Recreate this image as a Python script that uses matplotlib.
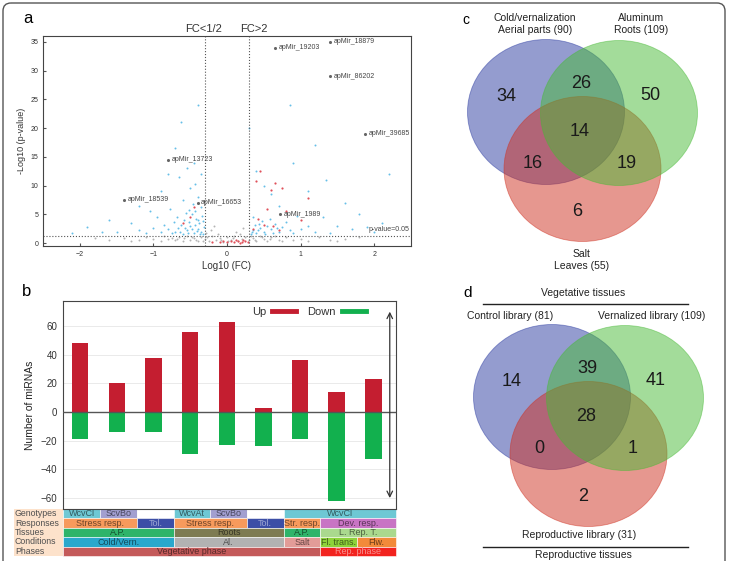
import matplotlib.pyplot as plt
from matplotlib.patches import Ellipse, Rectangle, FancyBboxPatch
from matplotlib.lines import Line2D
from matplotlib.transforms import blended_transform_factory
import matplotlib.colors as mcolors

plt.rcParams['font.family'] = ['Liberation Sans', 'DejaVu Sans']

# ---------------- datos ----------------
# panel a: volcano (puntos estimados a ojo)
blue_pts = [(-0.35, 2.0), (-0.4, 2.5), (-0.45, 1.8), (-0.5, 3.0), (-0.55, 2.2), (-0.6, 1.6),
            (-0.38, 3.5), (-0.42, 4.2), (-0.48, 5.0), (-0.52, 5.8), (-0.36, 6.2), (-0.46, 6.8),
            (-0.58, 4.0), (-0.62, 3.2), (-0.66, 2.6), (-0.7, 2.0), (-0.75, 1.7), (-0.8, 2.4),
            (-0.72, 3.6), (-0.68, 4.6), (-0.33, 1.6), (-0.31, 2.8), (-0.34, 4.8), (-0.4, 8.0),
            (-0.5, 9.5), (-0.44, 10.2), (-0.6, 7.5), (-0.85, 3.2), (-0.9, 1.9), (-1.0, 2.6),
            (-1.1, 1.8), (-1.2, 2.2), (-0.95, 4.5), (-1.05, 5.5), (-0.78, 6.0), (-0.65, 11.5),
            (-0.55, 13.0), (-0.7, 16.5), (-0.9, 9.0), (-1.3, 3.5), (-1.5, 2.0), (-1.7, 1.9),
            (-1.9, 2.8), (-1.2, 6.5), (-0.45, 14.0), (-0.35, 12.0), (-0.37, 1.5), (-0.41, 2.1),
            (-0.47, 2.4), (-0.53, 1.7), (-0.57, 2.7), (-0.43, 3.1), (-0.39, 4.0), (-0.51, 3.6),
            (-0.64, 1.9), (-0.56, 5.2), (-0.32, 3.9), (-0.44, 5.6), (-0.62, 21.0), (-0.4, 24.0),
            (-1.6, 4.0), (-2.1, 1.8), (-0.8, 12.0),
            (0.32, 1.6), (0.35, 2.2), (0.4, 1.8), (0.45, 2.6), (0.5, 2.0), (0.55, 3.0),
            (0.6, 2.4), (0.65, 3.4), (0.7, 1.9), (0.75, 2.8), (0.38, 3.2), (0.48, 3.8),
            (0.58, 4.2), (0.8, 3.6), (0.85, 2.2), (0.9, 1.7), (1.0, 2.5), (1.1, 3.0),
            (1.2, 2.0), (0.95, 4.8), (0.7, 6.5), (0.6, 8.5), (0.5, 10.0), (0.4, 12.5),
            (1.3, 4.5), (1.5, 3.0), (1.7, 2.4), (1.9, 2.8), (2.1, 3.5), (1.6, 7.0),
            (1.35, 11.0), (1.1, 9.0), (2.2, 12.0), (0.9, 14.0), (1.2, 17.0), (0.34, 1.9),
            (0.42, 2.3), (0.52, 1.6), (0.62, 1.8), (0.44, 3.4), (0.36, 4.5), (0.68, 2.6),
            (1.4, 1.8), (2.0, 2.0), (1.8, 5.0), (0.3, 20.0), (0.85, 24.0)]
gray_pts = [(-1.6, 0.6), (-1.4, 0.9), (-1.2, 0.5), (-1.1, 1.1), (-1.0, 0.7), (-0.9, 0.4),
            (-0.85, 1.2), (-0.8, 0.8), (-0.7, 0.5), (-0.65, 1.0), (-0.6, 0.3), (-0.55, 1.3),
            (-0.5, 0.6), (-0.45, 0.9), (-0.4, 0.4), (-0.35, 1.1), (-0.3, 0.7), (-0.25, 0.3),
            (-0.2, 1.2), (-0.15, 0.5), (-0.1, 0.9), (-0.05, 0.2), (0.0, 1.0), (0.05, 0.6),
            (0.1, 1.3), (0.15, 0.4), (0.2, 0.8), (0.25, 1.1), (0.3, 0.5), (0.35, 0.9),
            (0.4, 0.3), (0.45, 1.2), (0.5, 0.7), (0.55, 0.4), (0.6, 1.0), (0.7, 0.6),
            (0.8, 1.1), (0.9, 0.5), (1.0, 0.8), (1.1, 0.4), (1.25, 1.0), (1.4, 0.6),
            (1.6, 0.8), (-0.28, 1.8), (-0.22, 2.3), (-0.12, 1.6), (0.12, 1.9), (0.22, 2.6),
            (0.18, 1.5), (-0.18, 3.0), (-0.75, 0.9), (-0.68, 0.7), (-0.58, 0.9), (-0.48, 1.1),
            (-0.42, 0.6), (-0.32, 0.4), (-0.27, 1.0), (-0.08, 0.6), (0.02, 0.4), (0.08, 0.9),
            (0.32, 1.2), (0.38, 0.6), (0.48, 1.0), (0.58, 0.8), (0.65, 1.2), (0.75, 0.3),
            (-1.3, 0.3), (-1.8, 0.9), (1.8, 1.1), (1.5, 0.3)]
red_pts = [(0.0, 0.2), (0.05, 0.3), (0.1, 0.15), (0.15, 0.35), (0.2, 0.25), (0.25, 0.4),
           (0.28, 0.2), (-0.05, 0.3), (-0.1, 0.15), (0.12, 0.5), (0.22, 0.6), (0.35, 2.5),
           (0.42, 4.2), (0.5, 3.2), (0.55, 6.0), (0.6, 9.2), (0.65, 10.5), (0.75, 9.5),
           (0.45, 12.5), (0.62, 3.0), (0.8, 5.5), (0.7, 2.2), (1.0, 4.0), (-0.5, 4.5),
           (-0.45, 6.2), (-0.6, 3.5), (0.4, 10.8), (1.1, 7.8), (-0.2, 0.2), (0.18, 0.1)]
mir_names = ['apMir_18879', 'apMir_19203', 'apMir_86202', 'apMir_39685',
             'apMir_13723', 'apMir_18539', 'apMir_16653', 'apMir_1989']
mir_fc = [1.4, 0.65, 1.4, 1.87, -0.8, -1.4, -0.4, 0.72]
mir_p = [35, 34, 29, 19, 14.5, 7.5, 7, 5]

# panel b
n_conditions = 9
up_counts = [48, 20, 38, 56, 63, 3, 36, 14, 23]
down_counts = [-19, -14, -14, -29, -23, -24, -19, -62, -33]
table_rows = ['Genotypes', 'Responses', 'Tissues', 'Conditions', 'Phases']
genotype_cells = [(0, 1, 'WcvCl'), (1, 2, 'ScvBo'), (2, 3, ''), (3, 4, 'WcvAt'),
                  (4, 5, 'ScvBo'), (5, 6, ''), (6, 9, 'WcvCl')]
response_cells = [(0, 2, 'Stress resp.'), (2, 3, 'Tol.'), (3, 5, 'Stress resp.'),
                  (5, 6, 'Tol.'), (6, 7, 'Str. resp.'), (7, 9, 'Dev. resp.')]
tissue_cells = [(0, 3, 'A.P.'), (3, 6, 'Roots'), (6, 7, 'A.P.'), (7, 9, 'L. Rep. T.')]
condition_cells = [(0, 3, 'Cold/Vern.'), (3, 6, 'Al.'), (6, 7, 'Salt'),
                   (7, 8, 'Fl. trans.'), (8, 9, 'Flw.')]
phase_cells = [(0, 7, 'Vegetative phase'), (7, 9, 'Rep. phase')]

# panel c, d (regiones: A, AB, B, ABC, AC, BC, C)
venn_c_sets = ['Cold/vernalization\nAerial parts (90)', 'Aluminum\nRoots (109)', 'Salt\nLeaves (55)']
venn_c_counts = [34, 26, 50, 14, 16, 19, 6]
venn_d_sets = ['Control library (81)', 'Vernalized library (109)', 'Reproductive library (31)']
venn_d_counts = [14, 39, 41, 28, 0, 1, 2]

# ---------------- figura ----------------
W, H = 729, 561
fig = plt.figure(figsize=(W / 100, H / 100), dpi=100)


def box(l, t, r, b):
    return [l / W, 1 - b / H, (r - l) / W, (b - t) / H]


ov = fig.add_axes([0, 0, 1, 1])
ov.set_xlim(0, W)
ov.set_ylim(H, 0)
ov.axis('off')
ov.add_patch(FancyBboxPatch((3, 3), 722, 600, boxstyle='round,pad=0,rounding_size=8',
                            fill=False, ec='#555555', lw=1, clip_on=False))

# ---- a ----
ax_a = fig.add_axes(box(43, 36, 411, 246))
ax_a.scatter([p[0] for p in gray_pts], [p[1] for p in gray_pts], s=2, color='#b4b4b4', lw=0)
ax_a.scatter([p[0] for p in blue_pts], [p[1] for p in blue_pts], s=2, color='#66bfe8', lw=0)
ax_a.scatter([p[0] for p in red_pts], [p[1] for p in red_pts], s=2.5, color='#e0505a', lw=0)
ax_a.axvline(-0.3, ls=':', color='#555555', lw=0.8)
ax_a.axvline(0.3, ls=':', color='#555555', lw=0.8)
ax_a.axhline(1.3, ls=':', color='#555555', lw=0.8)
ax_a.scatter(mir_fc, mir_p, s=5, color='#666666', lw=0, zorder=4)
for n, x, y in zip(mir_names, mir_fc, mir_p):
    ax_a.text(x + 0.05, y, n, fontsize=5, va='center', color='#444444')
ax_a.text(2.48, 2.3, 'p-value=0.05', fontsize=5, ha='right', va='center', color='#444444')
ax_a.set_xlim(-2.5, 2.5)
ax_a.set_ylim(-0.5, 36)
ax_a.set_xticks([-2, -1, 0, 1, 2])
ax_a.set_yticks(range(0, 36, 5))
ax_a.tick_params(labelsize=5, direction='in', length=2, color='#555555', labelcolor='#333333')
ax_a.set_xlabel('Log10 (FC)', fontsize=7, color='#333333', labelpad=2)
ax_a.set_ylabel('-Log10 (p-value)', fontsize=6.5, color='#333333', labelpad=3)
for s in ax_a.spines.values():
    s.set_color('#444444')
ov.text(28, 18, 'a', fontsize=12, ha='center', va='center')
ov.text(204, 29, 'FC<1/2', fontsize=8, ha='center', va='center', color='#333333')
ov.text(254, 29, 'FC>2', fontsize=8, ha='center', va='center', color='#333333')

# ---- b ----
red_c, green_c = '#c41e30', '#12b04e'
ax_b = fig.add_axes(box(63, 301, 396, 509))
xs = list(range(n_conditions))
ax_b.bar(xs, up_counts, width=0.45, color=red_c, zorder=2)
ax_b.bar(xs, down_counts, width=0.45, color=green_c, zorder=2)
ax_b.axhline(0, color='#555555', lw=1, zorder=3)
ax_b.set_xlim(-0.47, 8.62)
ax_b.set_ylim(-67.7, 77.5)
ax_b.set_yticks(range(-60, 61, 20))
ax_b.set_xticks([])
ax_b.yaxis.grid(True, color='#e6e6e6', lw=0.6)
ax_b.set_axisbelow(True)
ax_b.tick_params(labelsize=7, length=0, pad=4, labelcolor='#333333')
ax_b.set_ylabel('Number of miRNAs', fontsize=7.5, color='#222222', labelpad=4)
for s in ax_b.spines.values():
    s.set_color('#444444')
ax_b.legend(handles=[Line2D([], [], color=red_c, lw=3.5, label='Up'),
                     Line2D([], [], color=green_c, lw=3.5, label='Down')],
            ncol=2, loc='upper right', bbox_to_anchor=(0.94, 1.02), frameon=False,
            markerfirst=False, fontsize=8, handlelength=2.2, columnspacing=1.0,
            handletextpad=0.5, labelcolor='#333333')
ax_b.annotate('', xy=(8.45, 72), xytext=(8.45, -62),
              arrowprops=dict(arrowstyle='<->', color='#333333', lw=0.9))
ov.text(27, 291, 'b', fontsize=12, ha='center', va='center')

# tabla bajo el panel b
cell_colors = {'WcvCl': '#6ec8d4', 'ScvBo': '#a29fd0', '': '#ffffff', 'WcvAt': '#6ec8d4',
               'Stress resp.': '#f79a5c', 'Tol.': '#3c4ea6', 'Str. resp.': '#f79a5c',
               'Dev. resp.': '#c874c4', 'A.P.': '#2eb46a', 'Roots': '#7e7b52',
               'L. Rep. T.': '#aad98e', 'Cold/Vern.': '#2aa8cc', 'Al.': '#b2b2b2',
               'Salt': '#e29c98', 'Fl. trans.': '#8ed23a', 'Flw.': '#f28a3a',
               'Vegetative phase': '#c45a5a', 'Rep. phase': '#f2231f'}
edges = [-0.47] + [i + 0.55 for i in range(8)] + [8.62]
tr = blended_transform_factory(ax_b.transData, ov.transData)
row_top, row_h = 509, 9.4
ov.add_patch(Rectangle((14, row_top), 49, row_h * 5, color='#fde2cb', lw=0, clip_on=False))
for r, (name, cells) in enumerate(zip(table_rows, [genotype_cells, response_cells, tissue_cells,
                                                    condition_cells, phase_cells])):
    y0 = row_top + r * row_h
    ov.text(15, y0 + row_h / 2, name, fontsize=6.3, va='center', ha='left', color='#505050')
    for s, e, t in cells:
        c = cell_colors[t]
        ov.add_patch(Rectangle((edges[s], y0), edges[e] - edges[s], row_h, transform=tr,
                               fc=c, ec='white', lw=0.4, clip_on=False))
        rgb = mcolors.to_rgb(c)
        lum = 0.3 * rgb[0] + 0.59 * rgb[1] + 0.11 * rgb[2]
        if lum < 0.4:
            tc = tuple(0.5 * v + 0.5 for v in rgb)
        else:
            tc = tuple(0.45 * v for v in rgb)
        ov.text((edges[s] + edges[e]) / 2, y0 + row_h / 2 + 0.3, t, transform=tr, fontsize=6.5,
                ha='center', va='center', color=tc)

# ---- c, d: Venn ----
# orden de dibujo: azul, rojo, verde
venn_fill = ['#2a3aa0', '#cf3020', '#48ba36']
venn_offsets = [(0, 0), (36.5, 57), (73, 1)]
count_offsets = [(-40, -16), (35, -29), (104, -16.5), (34, 19), (-13, 51), (81, 51.5), (31, 99)]
rx, ry = 78.5, 72.5


def draw_venn(cx, cy, counts):
    for (dx, dy), col in zip(venn_offsets, venn_fill):
        ov.add_patch(Ellipse((cx + dx, cy + dy), 2 * rx, 2 * ry, fc=col, alpha=0.5,
                             ec=col, lw=0.6))
    for (dx, dy), n in zip(count_offsets, counts):
        ov.text(cx + dx, cy + dy, str(n), fontsize=13, ha='center', va='center', color='#1a1a1a')


draw_venn(546, 112, venn_c_counts)
ov.text(466, 20, 'c', fontsize=10, ha='center', va='center')
ov.text(535, 24, venn_c_sets[0], fontsize=7.5, ha='center', va='center', linespacing=1.35,
        color='#222222')
ov.text(641, 24, venn_c_sets[1], fontsize=7.5, ha='center', va='center', linespacing=1.35,
        color='#222222')
ov.text(582, 260, venn_c_sets[2], fontsize=7.5, ha='center', va='center', linespacing=1.35,
        color='#222222')

draw_venn(552, 397, venn_d_counts)
ov.text(468, 293, 'd', fontsize=11, ha='center', va='center')
ov.text(583, 293, 'Vegetative tissues', fontsize=7.5, ha='center', va='center', color='#222222')
ov.plot([483, 688], [303.5, 303.5], color='#222222', lw=1)
ov.text(510, 316, venn_d_sets[0], fontsize=7.5, ha='center', va='center', color='#222222')
ov.text(652, 316, venn_d_sets[1], fontsize=7.5, ha='center', va='center', color='#222222')
ov.text(579, 535, venn_d_sets[2], fontsize=7.5, ha='center', va='center', color='#222222')
ov.plot([483, 688], [546.5, 546.5], color='#222222', lw=1)
ov.text(583, 555, 'Reproductive tissues', fontsize=7.5, ha='center', va='center',
        color='#222222')

plt.savefig('out.png', dpi=100)
